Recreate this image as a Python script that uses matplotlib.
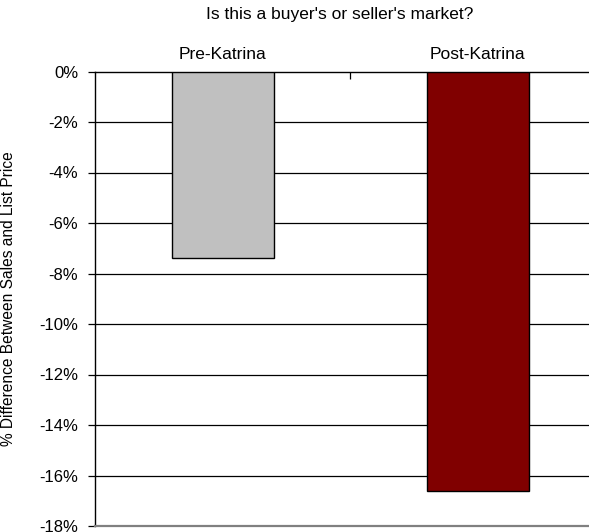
import matplotlib
matplotlib.use("Agg")
import matplotlib.pyplot as plt
from matplotlib.ticker import FuncFormatter, FixedLocator

plt.rcParams['font.family'] = ['Liberation Sans', 'DejaVu Sans']

categories = ["Pre-Katrina", "Post-Katrina"]
values = [-7.4, -16.6]
colors = ["#C0C0C0", "#800000"]
yticks = [0, -2, -4, -6, -8, -10, -12, -14, -16, -18]
title = "Is this a buyer's or seller's market?"
ylabel = "% Difference Between Sales and List Price"

W, H = 589, 532
fig = plt.figure(figsize=(W / 100, H / 100), dpi=100)
ax_left, ax_right, ax_top, ax_bottom = 95, 605, 71.5, 526
ax = fig.add_axes([ax_left / W, 1 - ax_bottom / H,
                   (ax_right - ax_left) / W, (ax_bottom - ax_top) / H])

x = list(range(len(categories)))
ax.bar(x, values, width=0.4, color=colors, edgecolor="black", linewidth=1.0, zorder=3)

ax.set_xlim(-0.5, len(categories) - 0.5)
ax.set_ylim(-18, 0)
ax.yaxis.set_major_locator(FixedLocator(yticks))
ax.yaxis.set_major_formatter(FuncFormatter(lambda v, p: f"{v:.0f}%"))
for t in yticks[1:-1]:
    ax.axhline(t, color="black", linewidth=0.9, zorder=1)

ax.xaxis.tick_top()
ax.set_xticks(x)
ax.set_xticklabels(categories, fontsize=12.5)
ax.tick_params(axis="x", which="major", length=0, pad=7)
ax.set_xticks([0.5], minor=True)
ax.tick_params(axis="x", which="minor", direction="in", length=5, width=0.9, top=True, bottom=False)

ax.tick_params(axis="y", which="major", direction="out", length=5, width=0.9, labelsize=12, pad=7)

ax.spines["right"].set_visible(False)
ax.spines["left"].set_color("black")
ax.spines["left"].set_linewidth(1.0)
ax.spines["top"].set_color("black")
ax.spines["top"].set_linewidth(1.0)
ax.spines["bottom"].set_color("#808080")
ax.spines["bottom"].set_linewidth(1.6)

fig.text(340 / W, 1 - 15 / H, title, ha="center", va="center", fontsize=12.5)
fig.text(9 / W, 1 - (ax_top + ax_bottom) / 2 / H, ylabel, rotation=90,
         ha="center", va="center", fontsize=11.2)

fig.savefig("out.png", dpi=100)
